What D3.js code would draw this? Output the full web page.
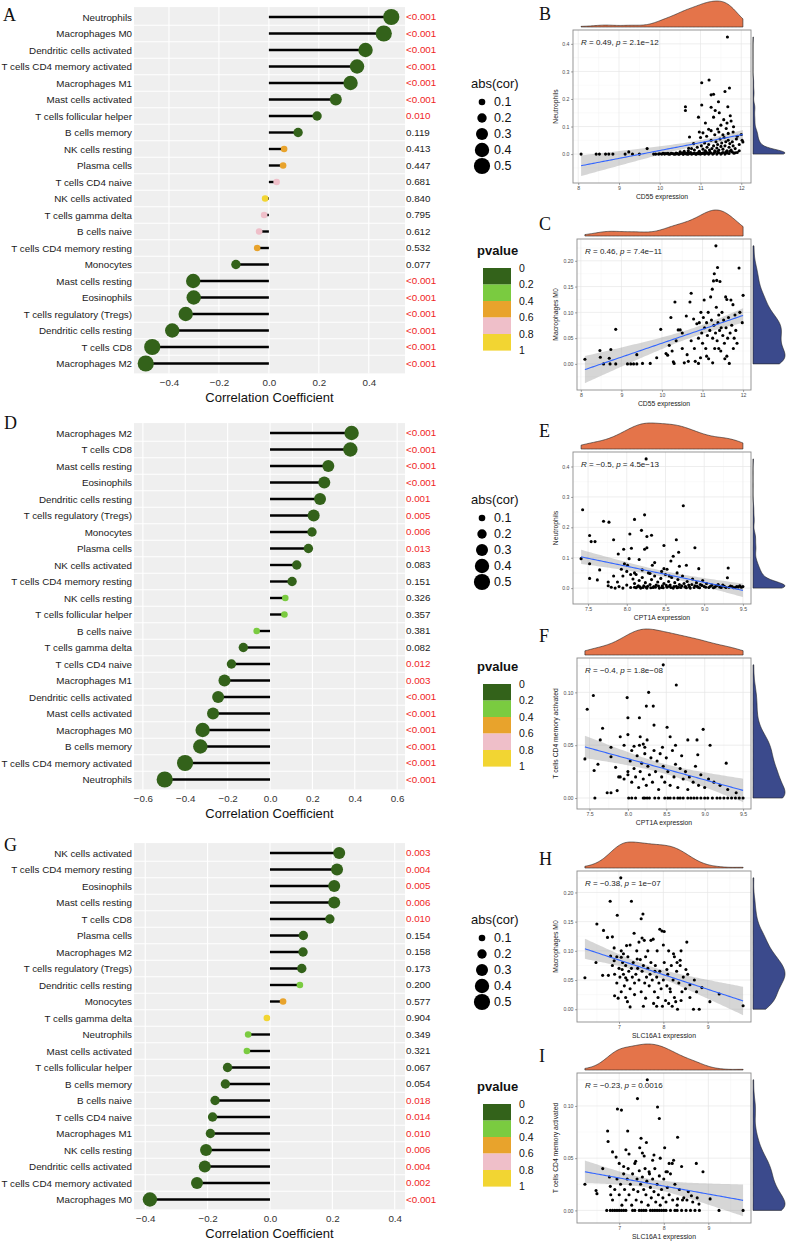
<!DOCTYPE html>
<html><head><meta charset="utf-8">
<script src="https://cdn.jsdelivr.net/npm/d3@7"></script>
<style>body{margin:0;background:#fff}svg{display:block}</style>
</head><body>
<svg id="c" width="786" height="1243"></svg>
<script>
// ---------------- DATA ----------------
const catsA = ["Neutrophils","Macrophages M0","Dendritic cells activated","T cells CD4 memory activated","Macrophages M1","Mast cells activated","T cells follicular helper","B cells memory","NK cells resting","Plasma cells","T cells CD4 naive","NK cells activated","T cells gamma delta","B cells naive","T cells CD4 memory resting","Monocytes","Mast cells resting","Eosinophils","T cells regulatory (Tregs)","Dendritic cells resting","T cells CD8","Macrophages M2"];
const corA = [0.49,0.46,0.387,0.353,0.327,0.268,0.193,0.117,0.061,0.057,0.031,-0.015,-0.019,-0.039,-0.047,-0.132,-0.303,-0.301,-0.333,-0.387,-0.467,-0.493];
const pA = ["<0.001","<0.001","<0.001","<0.001","<0.001","<0.001","0.010","0.119","0.413","0.447","0.681","0.840","0.795","0.612","0.532","0.077","<0.001","<0.001","<0.001","<0.001","<0.001","<0.001"];

const catsD = ["Macrophages M2","T cells CD8","Mast cells resting","Eosinophils","Dendritic cells resting","T cells regulatory (Tregs)","Monocytes","Plasma cells","NK cells activated","T cells CD4 memory resting","NK cells resting","T cells follicular helper","B cells naive","T cells gamma delta","T cells CD4 naive","Macrophages M1","Dendritic cells activated","Mast cells activated","Macrophages M0","B cells memory","T cells CD4 memory activated","Neutrophils"];
const corD = [0.385,0.379,0.275,0.256,0.236,0.206,0.198,0.181,0.126,0.104,0.072,0.068,-0.063,-0.126,-0.182,-0.215,-0.245,-0.269,-0.318,-0.329,-0.401,-0.497];
const pD = ["<0.001","<0.001","<0.001","<0.001","0.001","0.005","0.006","0.013","0.083","0.151","0.326","0.357","0.381","0.082","0.012","0.003","<0.001","<0.001","<0.001","<0.001","<0.001","<0.001"];

const catsG = ["NK cells activated","T cells CD4 memory resting","Eosinophils","Mast cells resting","T cells CD8","Plasma cells","Macrophages M2","T cells regulatory (Tregs)","Dendritic cells resting","Monocytes","T cells gamma delta","Neutrophils","Mast cells activated","T cells follicular helper","B cells memory","B cells naive","T cells CD4 naive","Macrophages M1","NK cells resting","Dendritic cells activated","T cells CD4 memory activated","Macrophages M0"];
const corG = [0.222,0.215,0.206,0.206,0.192,0.107,0.106,0.102,0.096,0.042,-0.01,-0.07,-0.074,-0.136,-0.143,-0.176,-0.184,-0.191,-0.205,-0.209,-0.234,-0.385];
const pG = ["0.003","0.004","0.005","0.006","0.010","0.154","0.158","0.173","0.200","0.577","0.904","0.349","0.321","0.067","0.054","0.018","0.014","0.010","0.006","0.004","0.002","<0.001"];

const ticksA = [-0.4,-0.2,0,0.2,0.4];
const ticksD = [-0.6,-0.4,-0.2,0,0.2,0.4,0.6];
const ticksG = [-0.4,-0.2,0,0.2,0.4];
const sizeBreaks = [0.1,0.2,0.3,0.4,0.5];
const pBreaks = ["0","0.2","0.4","0.6","0.8","1"];

// scatter points [expression, fraction]
const ptsB = [[8.07,0],[8.44,0],[8.52,0],[8.67,0],[8.75,0],[8.85,0],[9.15,0],[9.24,0.008],[9.33,0],[9.5,0],[9.69,0.02],[9.85,0],[9.97,0],[10.08,0.003],[10.15,0.002],[10.22,0],[10.28,0.003],[10.33,0.001],[10.38,0],[10.43,0.002],[10.48,0],[10.52,0.003],[10.57,0],[10.62,0.002],[10.67,0],[10.72,0.004],[10.78,0],[10.83,0.002],[10.9,0],[10.95,0.005],[11.0,0],[11.05,0.003],[11.1,0],[11.15,0.006],[11.2,0],[11.25,0.004],[11.3,0],[11.35,0.007],[11.4,0],[11.45,0.005],[11.5,0],[11.55,0.006],[11.6,0],[11.65,0.004],[11.7,0.002],[11.78,0.008],[11.85,0.005],[11.9,0.006],
[9.9,0],[10.0,0.001],[10.05,0],[10.1,0.002],[10.12,0],[10.18,0.001],[10.2,0.003],[10.25,0],[10.3,0.002],[10.35,0],[10.4,0.004],[10.42,0.001],[10.46,0],[10.5,0.002],[10.55,0.004],[10.58,0],[10.6,0.003],[10.64,0.001],[10.68,0.005],[10.7,0],[10.74,0.002],[10.76,0.006],[10.8,0.001],[10.85,0.004],[10.88,0],[10.92,0.003],[10.96,0.001],[10.98,0.006],[11.03,0.002],[11.08,0.005],[11.12,0.001],[11.18,0.003],[11.23,0.008],[11.32,0.002],[11.42,0.009],[11.52,0.003],[11.62,0.007],[11.72,0.01],[11.82,0.003],[11.95,0.012],
[10.7,0.012],[10.78,0.02],[10.85,0.015],[10.92,0.025],[10.97,0.01],[11.02,0.03],[11.06,0.018],[11.1,0.04],[11.12,0.012],[11.16,0.025],[11.2,0.035],[11.22,0.015],[11.26,0.05],[11.28,0.02],[11.32,0.03],[11.35,0.012],[11.38,0.045],[11.4,0.022],[11.42,0.035],[11.45,0.015],[11.48,0.055],[11.5,0.028],[11.52,0.04],[11.55,0.018],[11.58,0.06],[11.6,0.03],[11.62,0.045],[11.65,0.012],[11.68,0.05],[11.7,0.025],[11.72,0.038],[11.75,0.015],[11.78,0.045],[11.8,0.03],[11.85,0.02],[11.88,0.055],[11.95,0.035],[12.02,0.05],[12.04,0.044],[10.83,0.038],[10.71,0.021],[10.6,0.01],[10.5,0.008],
[11.66,0.425],[11.03,0.259],[11.21,0.269],[11.71,0.24],[11.6,0.227],[11.26,0.215],[11.32,0.217],[10.63,0.172],[10.63,0.158],[11.03,0.178],[11.44,0.19],[11.67,0.172],[11.26,0.17],[11.36,0.158],[11.46,0.15],[11.73,0.139],[10.95,0.134],[11.32,0.134],[11.57,0.125],[11.12,0.113],[11.65,0.113],[11.81,0.099],[10.97,0.08],[11.06,0.077],[10.73,0.062],[11.26,0.085],[11.42,0.091],[11.63,0.093],[11.68,0.075],[11.55,0.07],[12.0,0.071],[11.15,0.065],[11.35,0.07],[11.9,0.065],[11.0,0.06],[11.45,0.08],[11.8,0.08],[11.2,0.09],[11.5,0.105],[11.75,0.12]];

const ptsC = [[8.1,0.009],[8.47,0.026],[8.48,0.013],[8.56,0],[8.7,0.011],[8.72,0],[8.74,0.028],[8.86,0.067],[8.86,0],[9.15,0],[9.23,0],[9.3,0],[9.38,0],[9.38,0.018],[9.52,0.001],[9.71,0.001],[9.87,0.012],[9.97,0.067],[10.1,0.02],[10.14,0.017],[10.18,0.036],[10.22,0.09],[10.25,0.025],[10.28,0.004],[10.32,0.12],[10.3,0.001],[10.35,0.045],[10.4,0.066],[10.45,0.066],[10.5,0.06],[10.5,0.03],[10.55,0.002],[10.6,0.093],[10.62,0.018],[10.65,0.005],[10.69,0.12],[10.72,0.137],[10.72,0.045],[10.78,0.087],[10.8,0.03],[10.82,0.005],[10.86,0.078],[10.9,0.05],[10.92,0.08],[10.95,0.012],[10.96,0.1],[10.98,0.06],[11.0,0.04],[11.02,0.09],[11.04,0.124],[11.05,0.07],[11.08,0.03],[11.1,0.08],[11.12,0.055],[11.14,0.1],[11.15,0.01],[11.18,0.065],[11.2,0.13],[11.22,0.085],[11.24,0.145],[11.25,0.05],[11.27,0.161],[11.28,0.075],[11.29,0.175],[11.3,0.03],[11.32,0.06],[11.33,0.229],[11.34,0.11],[11.35,0.162],[11.36,0.045],[11.37,0.187],[11.38,0.08],[11.4,0.095],[11.42,0.065],[11.43,0.16],[11.45,0.025],[11.46,0.07],[11.48,0.1],[11.5,0.055],[11.52,0.085],[11.54,0.04],[11.57,0.13],[11.58,0.07],[11.6,0.125],[11.62,0.05],[11.64,0.09],[11.66,0.001],[11.68,0.06],[11.7,0.124],[11.72,0.075],[11.75,0.115],[11.76,0.03],[11.78,0.05],[11.8,0.095],[11.82,0.065],[11.85,0.04],[11.9,0.186],[11.92,0.1],[11.98,0.08],[12.0,0.133],[11.6,0.015],[11.4,0.03],[11.1,0.015],[10.9,0.001],[11.25,0.002],[11.55,0.01]];

const ptsE = [[7.41,0.097],[7.43,0.258],[7.52,0.173],[7.54,0.153],[7.59,0.153],[7.52,0.08],[7.52,0.032],[7.62,0.027],[7.65,0.06],[7.7,0.22],[7.77,0.217],[7.83,0.159],[7.83,0.04],[7.76,0.02],[7.76,0.008],[7.89,0.112],[7.93,0.062],[7.96,0.128],[7.97,0.08],[8.01,0.075],[8.03,0.097],[8.04,0.178],[8.06,0.131],[8.1,0.226],[8.16,0.094],[8.19,0.19],[8.23,0.128],[8.23,0.241],[8.25,0.425],[8.26,0.133],[8.26,0.17],[8.32,0.174],[8.33,0.075],[8.36,0.084],[8.48,0.064],[8.48,0.14],[8.52,0.062],[8.57,0.089],[8.6,0.105],[8.64,0.159],[8.67,0.118],[8.68,0.072],[8.73,0.271],[8.77,0.075],[8.88,0.133],[8.93,0.064],[9.31,0.066],[9.3,0.034],
[7.8,0.003],[7.85,0],[7.9,0.005],[7.95,0],[8.0,0.01],[8.05,0.002],[8.08,0.03],[8.1,0.015],[8.12,0.045],[8.14,0.005],[8.16,0.025],[8.18,0],[8.2,0.035],[8.22,0.008],[8.24,0.018],[8.26,0],[8.28,0.05],[8.3,0.012],[8.32,0.028],[8.34,0.002],[8.36,0.04],[8.38,0.01],[8.4,0.02],[8.42,0],[8.44,0.032],[8.46,0.008],[8.48,0.015],[8.5,0.045],[8.52,0.003],[8.54,0.022],[8.56,0.01],[8.58,0.035],[8.6,0],[8.62,0.018],[8.64,0.006],[8.66,0.028],[8.68,0.012],[8.7,0.002],[8.72,0.04],[8.74,0.015],[8.76,0.005],[8.78,0.022],[8.8,0.01],[8.82,0],[8.85,0.03],[8.88,0.008],[8.9,0.018],[8.92,0.003],[8.95,0.012],[8.98,0.025],[9.0,0.005],[9.03,0.015],[9.06,0.002],[9.1,0.01],[9.14,0.004],[9.18,0.012],[9.22,0.002],[9.26,0.006],[9.32,0.003],[9.36,0.005],[9.4,0.002],[9.44,0.004],[9.48,0.003],[9.5,0.005],[8.1,0.05],[8.2,0.06],[8.05,0.045],[7.95,0.04],[7.88,0.02],[8.0,0.055],[8.3,0.048],[8.45,0.055],[8.55,0.04],[8.65,0.05],[8.1,0.003],[8.15,0.008],[8.25,0.003],[8.35,0.005],[8.45,0.002],[8.55,0.006],[8.65,0.001],[8.75,0.004],
[8.12,0.001],[8.17,0.004],[8.21,0.002],[8.27,0.006],[8.31,0.001],[8.37,0.003],[8.41,0.007],[8.47,0.001],[8.51,0.009],[8.57,0.002],[8.61,0.005],[8.67,0.003],[8.71,0.008],[8.77,0.001],[8.81,0.004],[8.84,0.012],[8.87,0.002],[8.91,0.006],[8.94,0.001],[8.97,0.009],[9.02,0.003],[9.08,0.006],[9.12,0.001],[9.16,0.008],[9.2,0.004],[9.24,0.01],[9.28,0.002],[9.34,0.007],[9.38,0.001],[9.42,0.005],[9.46,0.008]];

const ptsF = [[7.44,0.037],[7.47,0.084],[7.55,0.097],[7.56,0.026],[7.57,0],[7.61,0.032],[7.64,0.055],[7.67,0.066],[7.73,0.005],[7.78,0.005],[7.78,0.039],[7.78,0.048],[7.84,0.029],[7.86,0.007],[7.88,0.02],[7.9,0.058],[7.99,0.095],[8.0,0.076],[8.0,0.06],[8.0,0.025],[8.08,0.049],[8.15,0.076],[8.16,0.058],[8.2,0.051],[8.22,0.048],[8.24,0.087],[8.27,0.1],[8.33,0.087],[8.34,0.069],[8.46,0.126],[8.51,0.067],[8.63,0.107],[8.62,0.05],[8.78,0.055],[8.9,0.055],[8.91,0.041],[8.98,0.065],[9.07,0.05],[9.28,0.033],[9.41,0.005],
[8.01,0],[8.05,0],[8.1,0],[8.2,0],[8.22,0],[8.25,0],[8.28,0],[8.35,0],[8.4,0],[8.48,0],[8.52,0],[8.55,0],[8.6,0],[8.65,0],[8.68,0],[8.72,0],[8.78,0],[8.82,0],[8.86,0],[8.9,0],[8.95,0],[9.0,0],[9.04,0],[9.1,0],[9.16,0],[9.2,0],[9.25,0],[9.3,0],[9.35,0],[9.4,0],[9.45,0],[9.5,0],
[7.9,0.02],[7.95,0.018],[8.0,0.022],[8.03,0.035],[8.05,0.015],[8.08,0.028],[8.1,0.02],[8.12,0.04],[8.14,0.01],[8.16,0.025],[8.18,0.033],[8.2,0.018],[8.22,0.042],[8.24,0.012],[8.26,0.03],[8.28,0.022],[8.3,0.038],[8.32,0.015],[8.34,0.045],[8.36,0.025],[8.38,0.035],[8.4,0.008],[8.42,0.042],[8.44,0.02],[8.46,0.03],[8.48,0.015],[8.5,0.038],[8.52,0.025],[8.55,0.012],[8.58,0.045],[8.6,0.02],[8.62,0.032],[8.65,0.01],[8.68,0.028],[8.7,0.04],[8.72,0.018],[8.75,0.025],[8.78,0.008],[8.8,0.02],[8.85,0.015],[8.88,0.03],[8.92,0.012],[8.95,0.022],[9.0,0.01],[9.05,0.018],[9.12,0.015],[9.2,0.012],[9.3,0.008],[8.05,0.045],[8.15,0.05],[7.95,0.05],[8.25,0.055],[8.45,0.048],[8.55,0.058]];

const ptsH = [[6.23,0.054],[6.5,0.146],[6.48,0.08],[6.63,0.058],[6.65,0.135],[6.74,0.123],[6.76,0.058],[6.8,0.185],[6.81,0.091],[6.85,0.124],[6.89,0.105],[6.89,0.083],[6.9,0.023],[6.96,0.161],[6.98,0.019],[7.04,0.225],[7.05,0.089],[7.07,0.068],[7.1,0.095],[7.15,0.054],[7.17,0.109],[7.19,0.013],[7.25,0.004],[7.28,0.185],[7.34,0.13],[7.41,0.086],[7.5,0.155],[7.54,0.163],[7.52,0.122],[7.57,0.118],[7.6,0.019],[7.72,0.118],[7.77,0.12],[7.81,0.065],[7.86,0.1],[7.92,0.137],[7.97,0.134],[8.02,0.133],[8.08,0.068],[8.12,0.1],[8.16,0.03],[8.23,0.095],[8.28,0.013],[8.31,0.08],[8.38,0.084],[8.42,0.03],[8.53,0.115],[8.51,0.068],[8.6,0.042],[8.68,0],[8.81,0],[8.87,0.037],[9.05,0.013],[9.26,0.026],[9.8,0.006],
[6.9,0.06],[6.95,0.045],[7.0,0.07],[7.02,0.055],[7.05,0.03],[7.08,0.08],[7.1,0.06],[7.12,0.04],[7.15,0.075],[7.18,0.05],[7.2,0.09],[7.22,0.065],[7.25,0.035],[7.28,0.07],[7.3,0.055],[7.32,0.08],[7.35,0.045],[7.38,0.06],[7.4,0.1],[7.42,0.07],[7.45,0.05],[7.48,0.085],[7.5,0.03],[7.52,0.065],[7.55,0.075],[7.58,0.045],[7.6,0.09],[7.62,0.055],[7.65,0.07],[7.68,0.04],[7.7,0.06],[7.72,0.08],[7.75,0.05],[7.78,0.01],[7.8,0.03],[7.82,0.075],[7.85,0.055],[7.88,0.02],[7.9,0.045],[7.92,0.065],[7.95,0.035],[7.98,0.005],[8.0,0.05],[8.02,0.08],[8.05,0.015],[8.08,0.04],[8.1,0.06],[8.12,0.01],[8.15,0.035],[8.18,0.075],[8.2,0.005],[8.22,0.05],[8.25,0.02],[8.3,0.065],[8.32,0.0],[8.35,0.045],[8.38,0.075],[8.4,0.015],[8.45,0.055],[8.5,0.035],[8.55,0.06],[8.6,0.02],[8.7,0.05],[8.75,0.03],[6.85,0.075],[6.95,0.09],[7.05,0.1],[7.15,0.02],[7.25,0.11],[7.35,0.025],[7.45,0.115],[7.55,0.005],[7.65,0.1],[7.85,0.005],[8.0,0.11],[8.25,0.09],[8.4,0.1]];

const ptsI = [[6.23,0.025],[6.48,0.019],[6.5,0.016],[6.63,0.04],[6.74,0.076],[6.75,0.066],[6.78,0.032],[6.8,0.023],[6.81,0.015],[6.85,0.056],[6.93,0.051],[6.96,0.097],[7.0,0.045],[7.05,0.096],[7.1,0.042],[7.15,0.058],[7.19,0.076],[7.22,0.054],[7.37,0.047],[7.41,0.107],[7.46,0.06],[7.49,0.069],[7.52,0.055],[7.56,0.052],[7.61,0.065],[7.63,0.125],[7.67,0.037],[7.75,0.048],[7.78,0.053],[7.86,0.099],[7.9,0.088],[7.92,0.05],[8.02,0.06],[8.05,0.037],[8.08,0.037],[8.12,0.045],[8.19,0.045],[8.22,0.048],[8.31,0.07],[8.31,0.011],[8.4,0.042],[8.42,0.01],[8.52,0.01],[8.62,0.014],[8.73,0.045],[8.79,0.006],[8.88,0.037],[9.04,0.011],[9.24,0],[9.78,0],
[6.72,0],[6.8,0],[6.85,0],[6.9,0],[6.95,0],[7.0,0],[7.05,0],[7.1,0],[7.15,0],[7.3,0],[7.35,0],[7.45,0],[7.5,0],[7.55,0],[7.6,0],[7.7,0],[7.75,0],[7.8,0],[7.85,0],[7.9,0],[7.95,0],[8.0,0],[8.05,0],[8.15,0],[8.25,0],[8.3,0],[8.4,0],[8.5,0],[8.6,0],[8.7,0],[8.8,0],
[6.85,0.01],[6.9,0.02],[6.95,0.03],[7.0,0.015],[7.03,0.025],[7.06,0.005],[7.1,0.035],[7.12,0.02],[7.15,0.01],[7.18,0.03],[7.2,0.04],[7.22,0.015],[7.25,0.025],[7.28,0.005],[7.3,0.035],[7.32,0.02],[7.35,0.045],[7.38,0.01],[7.4,0.03],[7.42,0.018],[7.45,0.038],[7.48,0.025],[7.5,0.008],[7.52,0.032],[7.55,0.02],[7.58,0.04],[7.6,0.015],[7.62,0.028],[7.65,0.005],[7.68,0.035],[7.7,0.022],[7.72,0.012],[7.75,0.03],[7.78,0.018],[7.8,0.04],[7.82,0.008],[7.85,0.025],[7.88,0.015],[7.9,0.033],[7.92,0.005],[7.95,0.02],[7.98,0.012],[8.0,0.03],[8.05,0.008],[8.08,0.022],[8.12,0.015],[8.15,0.035],[8.2,0.01],[8.25,0.025],[8.3,0.005],[8.35,0.02],[8.45,0.012],[8.55,0.018],[8.65,0.008],[8.75,0.012]];

// ---------------- STYLE ----------------
const svg = d3.select("#c");
const SANS = "'Liberation Sans', Arial, sans-serif";
const SERIF = "'Liberation Serif', 'Times New Roman', serif";
const pColors = ["#33621A","#7ACB40","#E8A32C","#EFBFC9","#F2D532"];
const pColor = d3.scaleThreshold().domain([0.2,0.4,0.6,0.8]).range(pColors);
const sizeR = d3.scaleThreshold().domain([0.1,0.2,0.3,0.4]).range([3.3,4.7,6.0,7.2,8.1]);
const pNum = s => s.startsWith("<") ? 0 : +s;
const RED = "#F01E1E";

function letter(t, x, y){
  svg.append("text").attr("x",x).attr("y",y).text(t)
    .attr("font-family",SERIF).attr("font-size",18).attr("fill","#111");
}

function lollipop(o){
  const g = svg.append("g");
  const step = 16.5, n = o.cats.length;
  const L = 134, R = 405;
  const top = o.y0 - 0.6*step, bot = o.y0 + (n-1+0.6)*step;
  const x = d3.scaleLinear().domain(o.domain).range([L,R]);
  const y = d3.scalePoint().domain(o.cats).range([o.y0, o.y0+(n-1)*step]);
  g.append("rect").attr("x",L).attr("y",top).attr("width",R-L).attr("height",bot-top).attr("fill","#EFEFEF");
  g.selectAll("line.vg").data(o.ticks).join("line").attr("class","vg")
    .attr("x1",d=>x(d)).attr("x2",d=>x(d)).attr("y1",top).attr("y2",bot)
    .attr("stroke","#fff").attr("stroke-width",1.1);
  const bounds = d3.range(n-1).map(i => (y(o.cats[i])+y(o.cats[i+1]))/2);
  g.selectAll("line.hg").data(bounds).join("line").attr("class","hg")
    .attr("x1",L).attr("x2",R).attr("y1",d=>d).attr("y2",d=>d)
    .attr("stroke","#fff").attr("stroke-width",1.1);
  g.selectAll("line.seg").data(o.cats).join("line").attr("class","seg")
    .attr("x1",x(0)).attr("x2",(d,i)=>x(o.cors[i])).attr("y1",d=>y(d)).attr("y2",d=>y(d))
    .attr("stroke","#000").attr("stroke-width",2.4);
  g.selectAll("circle.pt").data(o.cats).join("circle").attr("class","pt")
    .attr("cx",(d,i)=>x(o.cors[i])).attr("cy",d=>y(d))
    .attr("r",(d,i)=>sizeR(Math.abs(o.cors[i])))
    .attr("fill",(d,i)=>pColor(pNum(o.ps[i])));
  g.selectAll("text.pl").data(o.ps).join("text").attr("class","pl")
    .attr("x",R+1).attr("y",(d,i)=>y(o.cats[i])).attr("dy","0.35em")
    .text(d=>d).attr("font-family",SANS).attr("font-size",9.8)
    .attr("fill",d=>pNum(d)<0.05?RED:"#222");
  const ax = g.append("g").attr("transform",`translate(0,${bot})`)
    .call(d3.axisBottom(x).tickValues(o.ticks).tickSize(0).tickPadding(6).tickFormat(d3.format(".1f")));
  ax.select(".domain").remove();
  ax.selectAll("text").attr("font-family",SANS).attr("font-size",9.8).attr("fill","#333");
  const ay = g.append("g").attr("transform",`translate(${L},0)`)
    .call(d3.axisLeft(y).tickSize(0).tickPadding(2));
  ay.select(".domain").remove();
  ay.selectAll("text").attr("font-family",SANS).attr("font-size",9.8).attr("fill","#1a1a1a");
  g.append("text").attr("x",(L+R)/2).attr("y",bot+24).attr("dy","0.35em").attr("text-anchor","middle")
    .text("Correlation Coefficient").attr("font-family",SANS).attr("font-size",13).attr("fill","#111");
  // size legend
  const lg = g.append("g").attr("font-family",SANS);
  lg.append("text").attr("x",471).attr("y",o.y0+66).attr("dy","0.35em").text("abs(cor)").attr("font-size",13).attr("fill","#111");
  lg.selectAll("circle").data(sizeBreaks).join("circle")
    .attr("cx",482).attr("cy",(d,i)=>o.y0+85+i*16).attr("r",d=>sizeR(d-1e-6)).attr("fill","#000");
  lg.selectAll("text.sl").data(sizeBreaks).join("text").attr("class","sl")
    .attr("x",494).attr("y",(d,i)=>o.y0+85+i*16).attr("dy","0.35em").text(d=>d).attr("font-size",12.5).attr("fill","#111");
  // pvalue legend
  const pg = g.append("g").attr("font-family",SANS);
  pg.append("text").attr("x",477).attr("y",o.y0+233).attr("dy","0.35em").text("pvalue")
    .attr("font-size",13).attr("font-weight","bold").attr("fill","#111");
  pg.selectAll("rect").data(pColors).join("rect")
    .attr("x",483).attr("y",(d,i)=>o.y0+251+i*16.5).attr("width",28).attr("height",16.6).attr("fill",d=>d);
  pg.selectAll("text.pb").data(pBreaks).join("text").attr("class","pb")
    .attr("x",519).attr("y",(d,i)=>o.y0+251+i*16.5).attr("dy","0.35em").text(d=>d).attr("font-size",10.5).attr("fill","#111");
}

function kde(vals, n){
  const s = vals.slice().sort(d3.ascending);
  const sd = d3.deviation(s);
  const iqr = d3.quantileSorted(s,0.75)-d3.quantileSorted(s,0.25);
  const bw = 0.9*Math.min(sd, iqr/1.34)*Math.pow(s.length,-0.2);
  const [a,b] = d3.extent(s);
  return d3.range(n).map(i=>{
    const xv = a + i*(b-a)/(n-1);
    const dv = d3.mean(s, v => Math.exp(-0.5*((xv-v)/bw)**2))/(bw*Math.sqrt(2*Math.PI));
    return [xv, dv];
  });
}

function scatter(o){
  const g = svg.append("g");
  const [L,R,T,B] = o.box;
  const xs = o.pts.map(d=>d[0]), ys = o.pts.map(d=>d[1]);
  const n = xs.length, mx = d3.mean(xs), my = d3.mean(ys);
  const sxx = d3.sum(xs, v=>(v-mx)**2);
  const sxy = d3.sum(o.pts, d=>(d[0]-mx)*(d[1]-my));
  const b = sxy/sxx, a = my - b*mx;
  const s = Math.sqrt(d3.sum(o.pts, d=>(d[1]-a-b*d[0])**2)/(n-2));
  const tq = 1.97;
  const xe = d3.extent(xs);
  const band = d3.range(81).map(i=>{
    const xv = xe[0] + i*(xe[1]-xe[0])/80;
    const f = a + b*xv;
    const se = s*Math.sqrt(1/n + (xv-mx)**2/sxx);
    return {x:xv, f, lo:f-tq*se, hi:f+tq*se};
  });
  const ye = d3.extent(ys.concat(band.map(d=>d.lo), band.map(d=>d.hi)));
  const xr = xe[1]-xe[0], yr = ye[1]-ye[0];
  const x = d3.scaleLinear().domain([xe[0]-0.05*xr, xe[1]+0.05*xr]).range([L,R]);
  const y = d3.scaleLinear().domain([ye[0]-0.05*yr, ye[1]+0.05*yr]).range([B,T]);
  g.append("rect").attr("x",L).attr("y",T).attr("width",R-L).attr("height",B-T).attr("fill","#fff");
  const mid = t => d3.range(t.length-1).map(i=>(t[i]+t[i+1])/2);
  const xm = mid(o.xticks), ymn = mid(o.yticks);
  const xstep = o.xticks[1]-o.xticks[0], ystep = o.yticks[1]-o.yticks[0];
  xm.unshift(o.xticks[0]-xstep/2); xm.push(o.xticks[o.xticks.length-1]+xstep/2);
  ymn.unshift(o.yticks[0]-ystep/2); ymn.push(o.yticks[o.yticks.length-1]+ystep/2);
  const xd = x.domain(), yd = y.domain();
  const inX = v => v>xd[0] && v<xd[1], inY = v => v>yd[0] && v<yd[1];
  g.selectAll("line.xmn").data(xm.filter(inX)).join("line").attr("class","xmn")
    .attr("x1",d=>x(d)).attr("x2",d=>x(d)).attr("y1",T).attr("y2",B).attr("stroke","#F4F4F4").attr("stroke-width",0.5);
  g.selectAll("line.ymn").data(ymn.filter(inY)).join("line").attr("class","ymn")
    .attr("y1",d=>y(d)).attr("y2",d=>y(d)).attr("x1",L).attr("x2",R).attr("stroke","#F4F4F4").attr("stroke-width",0.5);
  g.selectAll("line.xmj").data(o.xticks).join("line").attr("class","xmj")
    .attr("x1",d=>x(d)).attr("x2",d=>x(d)).attr("y1",T).attr("y2",B).attr("stroke","#E6E6E6").attr("stroke-width",0.7);
  g.selectAll("line.ymj").data(o.yticks).join("line").attr("class","ymj")
    .attr("y1",d=>y(d)).attr("y2",d=>y(d)).attr("x1",L).attr("x2",R).attr("stroke","#E6E6E6").attr("stroke-width",0.7);
  g.append("path").datum(band)
    .attr("d",d3.area().x(d=>x(d.x)).y0(d=>y(d.lo)).y1(d=>y(d.hi)))
    .attr("fill","#999").attr("fill-opacity",0.4);
  g.selectAll("circle").data(o.pts).join("circle")
    .attr("cx",d=>x(d[0])).attr("cy",d=>y(d[1])).attr("r",1.55).attr("fill","#000");
  g.append("path").datum(band).attr("d",d3.line().x(d=>x(d.x)).y(d=>y(d.f)))
    .attr("fill","none").attr("stroke","#3366FF").attr("stroke-width",1.1);
  g.append("rect").attr("x",L).attr("y",T).attr("width",R-L).attr("height",B-T)
    .attr("fill","none").attr("stroke","#8C8C8C").attr("stroke-width",0.9);
  const ax = g.append("g").attr("transform",`translate(0,${B})`)
    .call(d3.axisBottom(x).tickValues(o.xticks).tickSize(2).tickPadding(1.5).tickFormat(d3.format(o.xfmt)));
  ax.select(".domain").remove();
  ax.selectAll("line").attr("stroke","#555").attr("stroke-width",0.5);
  ax.selectAll("text").attr("font-family",SANS).attr("font-size",5.2).attr("fill","#4D4D4D");
  const ay = g.append("g").attr("transform",`translate(${L},0)`)
    .call(d3.axisLeft(y).tickValues(o.yticks).tickSize(2).tickPadding(1.5).tickFormat(d3.format(o.yfmt)));
  ay.select(".domain").remove();
  ay.selectAll("line").attr("stroke","#555").attr("stroke-width",0.5);
  ay.selectAll("text").attr("font-family",SANS).attr("font-size",5.2).attr("fill","#4D4D4D");
  g.append("text").attr("x",(L+R)/2).attr("y",B+14).attr("dy","0.35em").attr("text-anchor","middle")
    .text(o.xlab).attr("font-family",SANS).attr("font-size",6.8).attr("fill","#222");
  g.append("text").attr("transform",`translate(556,${(T+B)/2}) rotate(-90)`).attr("dy","0.35em").attr("text-anchor","middle")
    .text(o.ylab).attr("font-family",SANS).attr("font-size",6.8).attr("fill","#222");
  const an = g.append("text").attr("x",L+8).attr("y",T+15).attr("font-family",SANS).attr("font-size",8).attr("fill","#222");
  an.append("tspan").attr("font-style","italic").text("R");
  an.append("tspan").text(" = " + o.r + ", ");
  an.append("tspan").attr("font-style","italic").text("p");
  an.append("tspan").text(" = " + o.p);
  const dx = kde(xs, 120), mxD = d3.max(dx, d=>d[1]);
  const base = T-3, hgt = 26;
  g.append("path").datum(dx)
    .attr("d", d3.area().x(d=>x(d[0])).y0(base).y1(d=>base - d[1]/mxD*hgt))
    .attr("fill","#E4744A").attr("stroke","#222").attr("stroke-width",0.6);
  const dy = kde(ys, 120), myD = d3.max(dy, d=>d[1]);
  const xb = R+2, wid = 32;
  g.append("path").datum(dy)
    .attr("d", d3.area().y(d=>y(d[0])).x0(xb).x1(d=>xb + d[1]/myD*wid))
    .attr("fill","#3B4A8C").attr("stroke","#222").attr("stroke-width",0.6);
}

// ---------------- DRAW ----------------
lollipop({cats:catsA, cors:corA, ps:pA, domain:[-0.54,0.545], ticks:ticksA, y0:17});
lollipop({cats:catsD, cors:corD, ps:pD, domain:[-0.642,0.637], ticks:ticksD, y0:433});
lollipop({cats:catsG, cors:corG, ps:pG, domain:[-0.436,0.433], ticks:ticksG, y0:853});
letter("A",3,21); letter("D",4,429); letter("G",4,851);

scatter({pts:ptsB, box:[573,751,30,183], xticks:[8,9,10,11,12], yticks:[0,0.1,0.2,0.3,0.4], xfmt:"d", yfmt:".1f", xlab:"CD55 expression", ylab:"Neutrophils", r:"0.49", p:"2.1e\u221212"});
scatter({pts:ptsC, box:[577,751,239,390], xticks:[8,9,10,11,12], yticks:[0,0.05,0.1,0.15,0.2], xfmt:"d", yfmt:".2f", xlab:"CD55 expression", ylab:"Macrophages M0", r:"0.46", p:"7.4e\u221211"});
scatter({pts:ptsE, box:[573,751,452,604], xticks:[7.5,8,8.5,9,9.5], yticks:[0,0.1,0.2,0.3,0.4], xfmt:".1f", yfmt:".1f", xlab:"CPT1A expression", ylab:"Neutrophils", r:"\u22120.5", p:"4.5e\u221213"});
scatter({pts:ptsF, box:[577,751,658,809], xticks:[7.5,8,8.5,9,9.5], yticks:[0,0.05,0.1], xfmt:".1f", yfmt:".2f", xlab:"CPT1A expression", ylab:"T cells CD4 memory activated", r:"\u22120.4", p:"1.8e\u221208"});
scatter({pts:ptsH, box:[577,751,871,1022], xticks:[7,8,9], yticks:[0,0.05,0.1,0.15,0.2], xfmt:"d", yfmt:".2f", xlab:"SLC16A1 expression", ylab:"Macrophages M0", r:"\u22120.38", p:"1e\u221207"});
scatter({pts:ptsI, box:[577,751,1073,1223], xticks:[7,8,9], yticks:[0,0.05,0.1], xfmt:"d", yfmt:".2f", xlab:"SLC16A1 expression", ylab:"T cells CD4 memory activated", r:"\u22120.23", p:"0.0016"});
letter("B",539,20); letter("C",539,230); letter("E",539,437); letter("F",539,642); letter("H",539,865); letter("I",539,1062);
</script>
</body></html>
